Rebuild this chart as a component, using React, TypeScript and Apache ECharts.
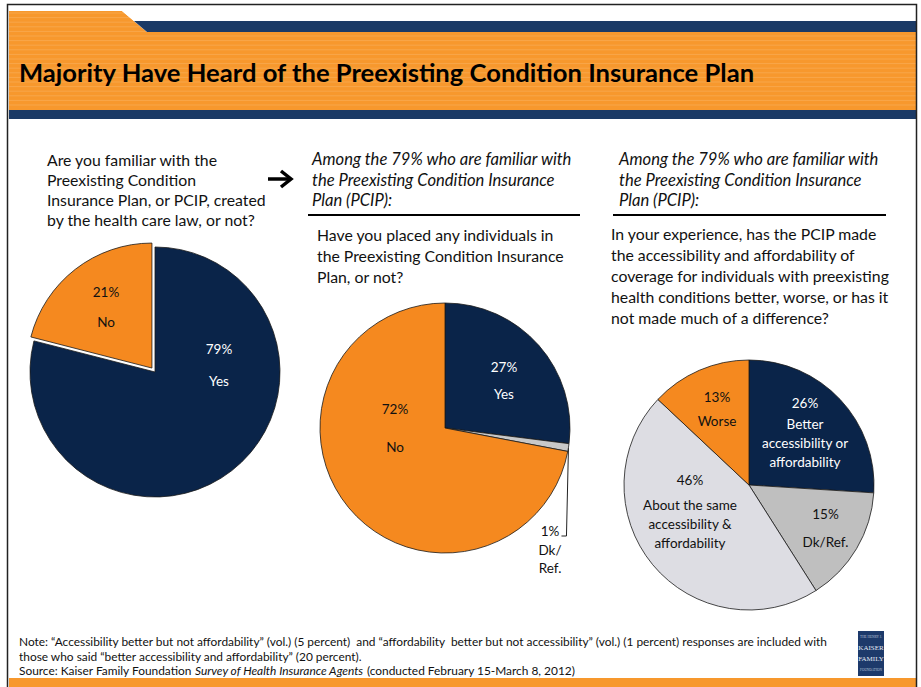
import React, { useEffect, useRef } from "react";
import * as echarts from "echarts";

// ---------- data ----------
const familiarCategories = ["Yes", "No"];
const familiarValues = [79, 21];

const placedCategories = ["Yes", "Dk/\nRef.", "No"];
const placedValues = [27, 1, 72];

const experienceCategories = [
  "Better\naccessibility or\naffordability",
  "Dk/Ref.",
  "About the same\naccessibility &\naffordability",
  "Worse",
];
const experienceValues = [26, 15, 46, 13];

const titleText = "Majority Have Heard of the Preexisting Condition Insurance Plan";
const q1Text =
  "Are you familiar with the\nPreexisting Condition\nInsurance Plan, or PCIP, created\nby the health care law, or not?";
const subsetText =
  "Among the 79% who are familiar with\nthe Preexisting Condition Insurance\nPlan (PCIP):";
const q2Text =
  "Have you placed any individuals in\nthe Preexisting Condition Insurance\nPlan, or not?";
const q3Text =
  "In your experience, has the PCIP made\nthe accessibility and affordability of\ncoverage for individuals with preexisting\nhealth conditions better, worse, or has it\nnot made much of a difference?";
const noteLine1 =
  "Note: \u201CAccessibility better but not affordability\u201D (vol.) (5 percent)  and \u201Caffordability  better but not accessibility\u201D (vol.) (1 percent) responses are included with";
const noteLine2 =
  "those who said \u201Cbetter accessibility and affordability\u201D (20 percent).";

// ---------- style ----------
const NAVY = "#0a2449";
const ORANGE = "#f5891f";
const HEADER_ORANGE = "#f7982d";
const HEADER_NAVY = "#1b3a66";
const LIGHT_GRAY = "#dddde3";
const MID_GRAY = "#bfbfbf";
const DK_GRAY = "#c8c8c8";
const FONT = "Lato, 'Open Sans', sans-serif";
const NOTE_SIZE = 11.9;

export default function App() {
  const ref = useRef<HTMLDivElement>(null);

  useEffect(() => {
    if (!ref.current) return;
    const chart = echarts.init(ref.current, undefined, { renderer: "svg" });

    const R = 125;
    const EXPLODE = 5;
    const centers: [number, number][] = [
      [155, 372],
      [445, 428],
      [749, 485],
    ];

    // exploded "No" slice of the first pie: offset along its mid angle
    const famTotal = familiarValues.reduce((a, b) => a + b, 0);
    const noMidFrac = (familiarValues[0] + familiarValues[1] / 2) / famTotal;
    const noTheta = noMidFrac * Math.PI * 2;
    const explodedCenter: [number, number] = [
      centers[0][0] + EXPLODE * Math.sin(noTheta),
      centers[0][1] - EXPLODE * Math.cos(noTheta),
    ];

    // label placement offsets relative to pie center, and line heights [pct, name]
    const labelPlace: number[][][] = [
      [
        [64, -7.5, 32, 32],
        [-49, -65, 30, 30],
      ],
      [
        [59, -47.5, 27, 27],
        [105, 121.5, 18.5, 18.5],
        [-50, 0, 38, 38],
      ],
      [
        [56, -53.5, 23, 19],
        [76.5, 43, 28, 28],
        [-59, 23, 31, 19],
        [-32, -76, 24, 24],
      ],
    ];

    const mkLayout = (si: number) => (params: any) => {
      const p = labelPlace[si][params.dataIndex];
      const x = centers[si][0] + p[0];
      const y = centers[si][1] + p[1];
      const out: any = { x, y, align: "center", verticalAlign: "middle" };
      if (params.labelLinePoints && params.labelLinePoints.length) {
        // elbow leader: down from the slice edge, then left to the label's first line
        const s = params.labelLinePoints[0];
        const elbowY = y - 13.5;
        out.labelLinePoints = [
          [s[0], s[1]],
          [s[0] - 2, elbowY],
          [s[0] - 7, elbowY],
        ];
      }
      return out;
    };

    const mkData = (
      si: number,
      cats: string[],
      vals: number[],
      colors: string[],
      textColors: string[],
      extra: any[] = []
    ) =>
      cats.map((c, i) => {
        const p = labelPlace[si][i];
        return {
          name: c,
          value: vals[i],
          itemStyle: { color: colors[i] },
          label: {
            rich: {
              p: { fontSize: 13.5, fontFamily: FONT, color: textColors[i], lineHeight: p[2], align: "center" },
              n: { fontSize: 13.5, fontFamily: FONT, color: textColors[i], lineHeight: p[3], align: "center" },
            },
          },
          ...(extra[i] || {}),
        };
      });

    const hidden = {
      itemStyle: { color: "rgba(0,0,0,0)", borderWidth: 0 },
      label: { show: false },
    };

    const baseSeries = (si: number, center: [number, number] = centers[si]) => ({
      type: "pie",
      center,
      radius: [0, R],
      startAngle: 90,
      clockwise: true,
      avoidLabelOverlap: false,
      silent: true,
      itemStyle: { borderColor: "#1a1a1a", borderWidth: 0.8 },
      label: {
        show: true,
        position: "inside",
        align: "center",
        verticalAlign: "middle",
        formatter: (pr: any) => `{p|${pr.value}%}\n{n|${pr.name}}`,
      },
      labelLine: { show: false },
      labelLayout: mkLayout(si),
    });

    const stripes: any[] = [];
    for (let y = 13; y < 109; y += 4.6) {
      stripes.push({
        type: "line",
        shape: { x1: 9, y1: y, x2: 916, y2: y },
        style: { stroke: "rgba(255,255,255,0.14)", lineWidth: 1 },
        silent: true,
      });
    }

    const textBlock = (text: string, x: number, y: number, lh: number, italic = false, size = 15.8) => ({
      type: "text",
      x,
      y,
      style: {
        text,
        fill: "#111",
        fontSize: size,
        fontFamily: FONT,
        fontStyle: italic ? "italic" : "normal",
        lineHeight: lh,
        verticalAlign: "top",
        align: "left",
      },
      silent: true,
    });

    const logoText = (text: string, y: number, size: number, fill: string) => ({
      type: "text",
      x: 871,
      y,
      style: {
        text,
        fill,
        fontSize: size,
        fontFamily: "'Liberation Serif', serif",
        align: "center",
        verticalAlign: "middle",
      },
      silent: true,
    });

    const option: any = {
      animation: false,
      backgroundColor: "#ffffff",
      graphic: [
        // header orange tab + band
        {
          type: "polygon",
          shape: { points: [[9, 11], [122, 11], [147, 32], [916, 32], [916, 110], [9, 110]] },
          style: { fill: HEADER_ORANGE },
          silent: true,
        },
        ...stripes,
        {
          type: "polygon",
          shape: { points: [[122, 11], [916, 11], [916, 32], [147, 32]] },
          style: { fill: "#ffffff" },
          silent: true,
        },
        {
          type: "polygon",
          shape: { points: [[134, 21], [916, 21], [916, 32], [147, 32]] },
          style: { fill: HEADER_NAVY },
          silent: true,
        },
        {
          type: "rect",
          shape: { x: 9, y: 110, width: 907, height: 9 },
          style: { fill: HEADER_NAVY },
          silent: true,
        },
        {
          type: "text",
          x: 19,
          y: 72,
          style: {
            text: titleText,
            fill: "#000",
            fontSize: 25.6,
            fontWeight: "bold",
            fontFamily: FONT,
            verticalAlign: "middle",
            align: "left",
          },
          silent: true,
        },
        // question texts
        textBlock(q1Text, 47, 149, 20),
        textBlock(subsetText, 312, 149, 20.5, true, 16.6),
        textBlock(q2Text, 317, 223.5, 21),
        textBlock(subsetText, 619, 149, 20.5, true, 16.6),
        textBlock(q3Text, 611, 222.5, 21),
        // rules
        {
          type: "line",
          shape: { x1: 308, y1: 215, x2: 580, y2: 215 },
          style: { stroke: "#000", lineWidth: 2 },
          silent: true,
        },
        {
          type: "line",
          shape: { x1: 613, y1: 215, x2: 886, y2: 215 },
          style: { stroke: "#000", lineWidth: 2 },
          silent: true,
        },
        // arrow
        {
          type: "line",
          shape: { x1: 268, y1: 179, x2: 290, y2: 179 },
          style: { stroke: "#000", lineWidth: 3.5 },
          silent: true,
        },
        {
          type: "polyline",
          shape: { points: [[281, 171], [291, 179], [281, 187]] },
          style: { stroke: "#000", lineWidth: 3.5, fill: "none" },
          silent: true,
        },
        // footer
        {
          type: "text",
          x: 19,
          y: 641,
          style: { text: noteLine1, fill: "#111", fontSize: NOTE_SIZE, fontFamily: FONT, verticalAlign: "middle" },
          silent: true,
        },
        {
          type: "text",
          x: 19,
          y: 656,
          style: { text: noteLine2, fill: "#111", fontSize: NOTE_SIZE, fontFamily: FONT, verticalAlign: "middle" },
          silent: true,
        },
        {
          type: "text",
          x: 19,
          y: 670,
          style: {
            text: "{a|Source: Kaiser Family Foundation }{b|Survey of Health Insurance Agents}{a| (conducted February 15-March 8, 2012)}",
            verticalAlign: "middle",
            rich: {
              a: { fill: "#111", color: "#111", fontSize: NOTE_SIZE, fontFamily: FONT },
              b: { fill: "#111", color: "#111", fontSize: NOTE_SIZE, fontFamily: FONT, fontStyle: "italic" },
            },
          },
          silent: true,
        },
        {
          type: "rect",
          shape: { x: 9, y: 678, width: 907, height: 9 },
          style: { fill: HEADER_ORANGE },
          silent: true,
        },
        // logo
        {
          type: "rect",
          shape: { x: 858, y: 631, width: 26, height: 45 },
          style: { fill: "#1d3a6b" },
          silent: true,
        },
        logoText("THE HENRY J.", 637, 3.4, "#b9c4da"),
        logoText("KAISER", 648, 7, "#e6ebf5"),
        logoText("FAMILY", 659, 7, "#e6ebf5"),
        logoText("FOUNDATION", 670, 3.4, "#b9c4da"),
        // outer frame
        {
          type: "rect",
          shape: { x: 7.5, y: 4.5, width: 909, height: 690 },
          style: { fill: "none", stroke: "#222", lineWidth: 1.5 },
          silent: true,
          z: 100,
        },
      ],
      series: [
        // first pie: "Yes" slice in place
        {
          ...baseSeries(0),
          data: mkData(0, familiarCategories, familiarValues, [NAVY, ORANGE], ["#ffffff", "#111111"], [
            {},
            hidden,
          ]),
        },
        // first pie: exploded "No" slice
        {
          ...baseSeries(0, explodedCenter),
          data: mkData(0, familiarCategories, familiarValues, [NAVY, ORANGE], ["#ffffff", "#111111"], [
            hidden,
            {},
          ]),
        },
        {
          ...baseSeries(1),
          data: mkData(1, placedCategories, placedValues, [NAVY, DK_GRAY, ORANGE], ["#ffffff", "#111111", "#111111"], [
            {},
            {
              label: {
                position: "outside",
                rich: {
                  p: { fontSize: 13.5, fontFamily: FONT, color: "#111", lineHeight: 18.5, align: "center" },
                  n: { fontSize: 13.5, fontFamily: FONT, color: "#111", lineHeight: 18.5, align: "center" },
                },
              },
              labelLine: { show: true, length: 10, length2: 5, lineStyle: { color: "#222", width: 1 } },
            },
            {},
          ]),
        },
        {
          ...baseSeries(2),
          data: mkData(2, experienceCategories, experienceValues, [NAVY, MID_GRAY, LIGHT_GRAY, ORANGE], [
            "#ffffff",
            "#111111",
            "#111111",
            "#111111",
          ]),
        },
      ],
    };

    chart.setOption(option);
    return () => chart.dispose();
  }, []);

  return (
    <div
      ref={ref}
      style={{ position: "absolute", left: 0, top: 0, width: 921, height: 687, background: "#fff" }}
    />
  );
}
